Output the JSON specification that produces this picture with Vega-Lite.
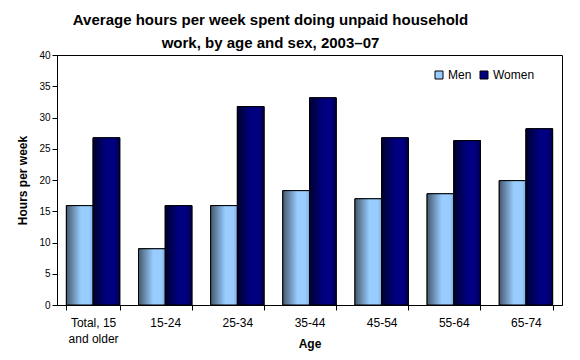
{
  "$schema": "https://vega.github.io/schema/vega-lite/v6.json",
  "width": 505,
  "height": 250,
  "autosize": "none",
  "padding": {"left": 57, "top": 55, "right": 18, "bottom": 55},
  "background": "white",
  "config": {
    "font": "Liberation Sans",
    "view": {"stroke": "black", "strokeWidth": 1}
  },
  "title": {
    "text": ["Average hours per week spent doing unpaid household", "work, by age and sex, 2003–07"],
    "font": "Liberation Sans",
    "fontSize": 15,
    "fontWeight": "bold",
    "lineHeight": 23,
    "anchor": "middle",
    "dx": -39,
    "offset": -1,
    "color": "black"
  },
  "data": {
    "values": [
      {"age": "Total, 15 and older", "sex": "Men", "hours": 15.9},
      {"age": "Total, 15 and older", "sex": "Women", "hours": 26.75},
      {"age": "15-24", "sex": "Men", "hours": 9.0},
      {"age": "15-24", "sex": "Women", "hours": 15.9},
      {"age": "25-34", "sex": "Men", "hours": 15.9},
      {"age": "25-34", "sex": "Women", "hours": 31.75},
      {"age": "35-44", "sex": "Men", "hours": 18.3},
      {"age": "35-44", "sex": "Women", "hours": 33.15},
      {"age": "45-54", "sex": "Men", "hours": 17.0},
      {"age": "45-54", "sex": "Women", "hours": 26.75},
      {"age": "55-64", "sex": "Men", "hours": 17.8},
      {"age": "55-64", "sex": "Women", "hours": 26.3},
      {"age": "65-74", "sex": "Men", "hours": 19.9},
      {"age": "65-74", "sex": "Women", "hours": 28.2}
    ]
  },
  "encoding": {
    "x": {
      "field": "age",
      "type": "nominal",
      "sort": null,
      "scale": {"paddingInner": 0.26, "paddingOuter": 0.13},
      "axis": {
        "title": "Age",
        "titleFontSize": 12,
        "titleFontWeight": "bold",
        "titleColor": "black",
        "titleY": 42,
        "titleBaseline": "alphabetic",
        "labelAngle": 0,
        "labelFontSize": 12,
        "labelColor": "black",
        "labelLineHeight": 16,
        "labelPadding": 7,
        "labelExpr": "datum.label == 'Total, 15 and older' ? ['Total, 15', 'and older'] : datum.label",
        "tickBand": "extent",
        "tickSize": 5,
        "tickColor": "black",
        "domainColor": "black",
        "grid": false
      }
    },
    "xOffset": {"field": "sex", "type": "nominal", "scale": {"paddingInner": 0, "paddingOuter": 0}},
    "y": {
      "field": "hours",
      "type": "quantitative",
      "scale": {"domain": [0, 40], "nice": false},
      "axis": {
        "title": "Hours per week",
        "titleFontSize": 12,
        "titleFontWeight": "bold",
        "titleColor": "black",
        "titlePadding": 9,
        "values": [0, 5, 10, 15, 20, 25, 30, 35, 40],
        "labelFontSize": 10,
        "labelColor": "black",
        "labelPadding": 2,
        "tickSize": 5,
        "tickColor": "black",
        "domainColor": "black",
        "grid": false
      }
    }
  },
  "layer": [
    {
      "mark": {"type": "bar", "stroke": "black", "strokeWidth": 1},
      "encoding": {
        "color": {
          "field": "sex",
          "type": "nominal",
          "scale": {"domain": ["Men", "Women"], "range": ["#99ccff", "#000080"]},
          "legend": {
            "title": null,
            "orient": "none",
            "legendX": 376,
            "legendY": 14,
            "direction": "horizontal",
            "padding": 0,
            "symbolType": "square",
            "symbolSize": 64,
            "symbolStrokeColor": "black",
            "symbolStrokeWidth": 1,
            "symbolOpacity": 1,
            "labelFontSize": 12,
            "labelColor": "black",
            "labelOffset": 3,
            "columnPadding": 6
          }
        }
      }
    },
    {
      "mark": {"type": "bar", "stroke": "black", "strokeWidth": 1},
      "encoding": {
        "fill": {
          "condition": {
            "test": "datum.sex == 'Men'",
            "value": {"gradient": "linear", "x1": 0, "y1": 0, "x2": 1, "y2": 0, "stops": [
              {"offset": 0, "color": "#45596e"},
              {"offset": 0.55, "color": "#99ccff"},
              {"offset": 0.85, "color": "#99ccff"},
              {"offset": 1, "color": "#80acdc"}
            ]}
          },
          "value": {"gradient": "linear", "x1": 0, "y1": 0, "x2": 1, "y2": 0, "stops": [
            {"offset": 0, "color": "#00002e"},
            {"offset": 0.5, "color": "#000080"},
            {"offset": 0.8, "color": "#000080"},
            {"offset": 1, "color": "#00004a"}
          ]}
        }
      }
    }
  ]
}
